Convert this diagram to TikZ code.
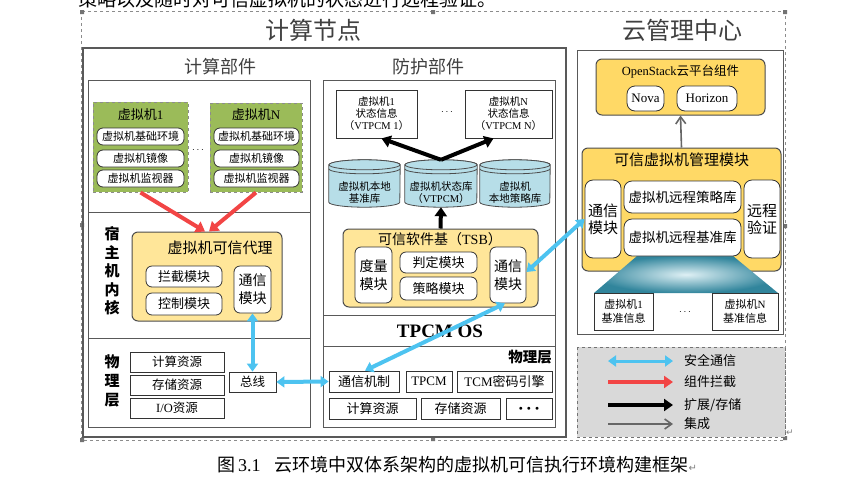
\documentclass[tikz,border=0pt]{standalone}
\usepackage{fontspec}
\setmainfont{Noto Sans CJK SC}
\newfontfamily\serifrm{Liberation Serif}
\newfontfamily\symfont{DejaVu Sans}
\usetikzlibrary{arrows.meta,positioning,calc}
\definecolor{frame}{HTML}{595959}
\definecolor{vmgreen}{HTML}{9BBB59}
\definecolor{agentyel}{HTML}{FFE699}
\definecolor{mgmtyel}{HTML}{FFD966}
\definecolor{cylblue}{HTML}{B7DEE8}
\definecolor{trapdark}{HTML}{31859C}
\definecolor{safeblue}{HTML}{4DC3F0}
\definecolor{cutred}{HTML}{F24545}
\definecolor{legendgrey}{HTML}{D9D9D9}
\newcommand{\fs}[2]{\fontsize{#1}{#2}\selectfont}
% cylinder drawn round an empty node: #1 node, #2 x radius
\newcommand{\drum}[2]{%
  \draw[drumline] ($(#1.north west)+(0,-5)$) -- ($(#1.south west)+(0,5)$)
    arc[start angle=180, end angle=360, x radius=#2, y radius=5]
    -- ($(#1.north east)+(0,-5)$)
    arc[start angle=0, end angle=180, x radius=#2, y radius=5] -- cycle;
  \draw[drumline] ($(#1.north)+(0,-5)$) ellipse[x radius=#2, y radius=5];
  \draw[draw=black!70, line width=0.8pt] ($(#1.north west)+(0,-9)$)
    arc[start angle=180, end angle=360, x radius=#2, y radius=5];}
\tikzset{
  panel/.style={draw=frame, line width=1pt},
  box/.style={rectangle, draw=black!80, fill=white, line width=0.8pt, inner sep=0pt,
              align=center, font=\fs{12.5}{15}},
  pill/.style={box, rounded corners=6pt, font=\fs{13}{15}},
  vmbox/.style={rectangle, draw=black!45, dashed, fill=vmgreen, line width=1pt, inner sep=0pt},
  agentbox/.style={rectangle, rounded corners=6pt, draw=black!70, fill=agentyel, line width=1pt,
                   inner sep=0pt},
  mgmtbox/.style={agentbox, fill=mgmtyel},
  infobox/.style={box, font=\fs{10.5}{12}},
  lbl/.style={inner sep=0pt, align=center},
  heading/.style={lbl, text=black!75, font=\fs{24}{28}},
  subheading/.style={lbl, text=black!75, font=\fs{18}{20}},
  drumline/.style={draw=black!70, line width=0.8pt, fill=cylblue},
  safe/.style={{Triangle[length=8pt,width=11pt]}-{Triangle[length=8pt,width=11pt]}, draw=safeblue,
               line width=4pt},
  cut/.style={-{Triangle[length=9pt,width=12pt]}, draw=cutred, line width=4pt},
  store/.style={-{Triangle[length=9pt,width=12pt]}, draw=black, line width=4pt},
  integ/.style={-{Straight Barb[length=7pt,width=10pt]}, draw=black!60, line width=1.6pt},
  keytext/.style={lbl, anchor=west, font=\fs{13}{15}}
}
\begin{document}
\begin{tikzpicture}[x=1pt, y=1pt]
 \useasboundingbox (0,0) rectangle (849,-491);
 \node[lbl, anchor=base west, font=\fs{19}{20}] (prevline) at (78,-6)
   {策略以及随时对可信虚拟机的状态进行远程验证。};
 % frame of the figure
 \draw[dashed, draw=black!45, line width=0.6pt] (81,-11) rectangle (785,-440);
 \fill[black!55] (80,-10) rectangle +(4,-4) (431,-10) rectangle +(4,-4) (783,-10) rectangle +(4,-4)
   (80,-223) rectangle +(4,-4) (783,-224) rectangle +(4,-4)
   (80,-438) rectangle +(4,-4) (431,-437) rectangle +(4,-4) (783,-436) rectangle +(4,-4);
 \node[heading] (nodetitle) at (313,-30) {计算节点};
 \node[heading] (cloudtitle) at (682,-30) {云管理中心};
 \draw[panel, line width=1.4pt] (83,-48) rectangle (566,-437);
 \node[subheading] (calctitle) at (220,-67) {计算部件};
 \node[subheading] (prottitle) at (428,-67) {防护部件};
 \draw[panel] (88,-80) rectangle (310,-427) (88,-212) -- (310,-212) (88,-338) -- (310,-338);
 \draw[panel] (323,-80) rectangle (555,-427) (323,-315) -- (555,-315) (323,-346) -- (555,-346);
 \draw[panel] (577,-50) rectangle (783,-334);

 % compute part
 \node[vmbox, minimum width=95, minimum height=90] (vm1) at (140.5,-147) {};
 \node[lbl, font=\fs{13}{15}] (vm1title) at (140.5,-115) {虚拟机{\serifrm 1}};
 \node[pill, minimum width=87, minimum height=17, font=\fs{11}{13}] (vm1env) at (140.5,-136.5) {虚拟机基础环境};
 \node[pill, minimum width=87, minimum height=17, font=\fs{11}{13}] (vm1img) at (140.5,-158.5) {虚拟机镜像};
 \node[pill, minimum width=87, minimum height=17, font=\fs{11}{13}] (vm1mon) at (140.5,-178.5) {虚拟机监视器};
 \node[vmbox, minimum width=92, minimum height=89] (vmN) at (256,-147.5) {};
 \node[lbl, font=\fs{13}{15}] (vmNtitle) at (256,-115) {虚拟机{\serifrm N}};
 \node[pill, minimum width=85, minimum height=17, font=\fs{11}{13}] (vmNenv) at (256.5,-136.5) {虚拟机基础环境};
 \node[pill, minimum width=85, minimum height=17, font=\fs{11}{13}] (vmNimg) at (256.5,-158.5) {虚拟机镜像};
 \node[pill, minimum width=85, minimum height=17, font=\fs{11}{13}] (vmNmon) at (256.5,-178.5) {虚拟机监视器};
 \node[lbl] (vmdots) at (198,-150) {$\cdots$};

 \node[agentbox, minimum width=150, minimum height=89] (agent) at (207,-276.5) {};
 \node[lbl, font=\fs{15}{17}] (agenttitle) at (220,-248) {虚拟机可信代理};
 \node[pill, minimum width=76, minimum height=21] (intercept) at (184,-276.5) {拦截模块};
 \node[pill, minimum width=76, minimum height=22] (control) at (184,-304) {控制模块};
 \node[pill, minimum width=37, minimum height=47, font=\fs{14}{18}] (agentcomm) at (252.5,-289.5) {通信\\模块};
 \node[lbl, font=\bfseries\fs{15}{18.5}] (hostlbl) at (112,-271) {宿\\主\\机\\内\\核};
 \node[lbl, font=\bfseries\fs{15}{19}] (physlbl) at (112,-381) {物\\理\\层};

 \node[box, minimum width=94, minimum height=20] (cpu1) at (177,-362) {计算资源};
 \node[box, minimum width=94, minimum height=20] (store1) at (177,-385) {存储资源};
 \node[box, minimum width=94, minimum height=20] (io1) at (177,-408) {{\serifrm I/O}资源};
 \node[box, minimum width=47, minimum height=20] (bus) at (252.5,-382) {总线};

 % protection part
 \node[infobox, minimum width=81, minimum height=48] (st1) at (376.5,-114)
   {虚拟机{\serifrm 1}\\状态信息\\（{\serifrm VTPCM 1}）};
 \node[infobox, minimum width=87, minimum height=48] (stN) at (508.5,-114)
   {虚拟机{\serifrm N}\\状态信息\\（{\serifrm VTPCM N}）};
 \node[lbl] (stdots) at (447,-112) {$\cdots$};
 \node[minimum width=71, minimum height=47, inner sep=0pt] (cyl1) at (364.5,-183.5) {};
 \node[minimum width=72, minimum height=47, inner sep=0pt] (cyl2) at (441,-183.5) {};
 \node[minimum width=70, minimum height=47, inner sep=0pt] (cyl3) at (515,-183.5) {};
 \drum{cyl1}{35.5}
 \drum{cyl2}{36}
 \drum{cyl3}{35}
 \node[lbl, font=\fs{10.5}{12}] (cyl1text) at ($(cyl1)+(0,-9.5)$) {虚拟机本地\\基准库};
 \node[lbl, font=\fs{10.5}{12}] (cyl2text) at ($(cyl2)+(0,-9.5)$) {虚拟机状态库\\（{\serifrm VTPCM}）};
 \node[lbl, font=\fs{10.5}{12}] (cyl3text) at ($(cyl3)+(0,-9.5)$) {虚拟机\\本地策略库};
 \draw[store] (cyl2.north) -- ($(st1.south)+(5,0)$);
 \draw[store] (cyl2.north) -- ($(stN.south)+(-15,0)$);

 \node[agentbox, minimum width=195, minimum height=78] (tsb) at (440.5,-268) {};
 \draw[store] (tsb.north) -- (cyl2.south);
 \node[lbl, font=\fs{14}{16}] (tsbtitle) at (440,-239) {可信软件基（{\serifrm TSB}）};
 \node[pill, minimum width=37, minimum height=56, font=\fs{14}{18}] (measure) at (373.5,-275) {度量\\模块};
 \node[pill, minimum width=77, minimum height=21] (judge) at (438.5,-262.5) {判定模块};
 \node[pill, minimum width=77, minimum height=23] (policy) at (438.5,-288.5) {策略模块};
 \node[pill, minimum width=36, minimum height=56, font=\fs{14}{18}] (tsbcomm) at (508,-275) {通信\\模块};
 \node[lbl, font=\serifrm\bfseries\fs{19}{20}] (tpcmos) at (440,-331) {TPCM OS};
 \node[lbl, anchor=east, font=\bfseries\fs{14.5}{17}] (protphys) at (552,-357) {物理层};
 \node[box, minimum width=70, minimum height=21, font=\fs{13}{15}] (commech) at (364,-381.5) {通信机制};
 \node[box, minimum width=46, minimum height=21, font=\fs{13}{15}] (tpcm) at (429,-381.5) {{\serifrm TPCM}};
 \node[box, minimum width=95, minimum height=21, font=\fs{13}{15}] (tcm) at (504.5,-381.5) {{\serifrm TCM}密码引擎};
 \node[box, minimum width=87, minimum height=21, font=\fs{13}{15}] (cpu2) at (372.5,-408.5) {计算资源};
 \node[box, minimum width=79, minimum height=21, font=\fs{13}{15}] (store2) at (460.5,-408.5) {存储资源};
 \node[box, minimum width=46, minimum height=21, font=\fs{7}{8}] (moredots) at (529,-408.5) {$\bullet\;\bullet\;\bullet$};

 % cloud management centre
 \node[mgmtbox, minimum width=169, minimum height=56] (openstack) at (680.5,-87) {};
 \node[lbl, font=\fs{12.5}{14}] (ostitle) at (680.5,-72) {{\serifrm OpenStack}云平台组件};
 \node[pill, minimum width=37, minimum height=25, rounded corners=8pt] (nova) at (645.5,-98.5) {{\serifrm Nova}};
 \node[pill, minimum width=60, minimum height=25, rounded corners=8pt] (horizon) at (707,-98.5) {{\serifrm Horizon}};
 \node[mgmtbox, minimum width=199, minimum height=123] (mgmt) at (681.5,-209.5) {};
 \draw[integ] (mgmt.north) -- (openstack.south);
 \node[lbl, font=\fs{15}{17}] (mgmttitle) at (681.5,-160) {可信虚拟机管理模块};
 \shade[inner color=cylblue!45!white, outer color=trapdark] (637,-256) -- (733,-256) -- (778,-293)
   -- (594,-293) -- cycle;
 \node[pill, minimum width=36, minimum height=78, rounded corners=8pt, font=\fs{15}{17}] (cloudcomm) at (603,-219) {通信\\模块};
 \node[pill, minimum width=117, minimum height=32, rounded corners=8pt, font=\fs{13.5}{15}] (rpolicy) at (682.5,-197) {虚拟机远程策略库};
 \node[pill, minimum width=117, minimum height=37, rounded corners=8pt, font=\fs{13.5}{15}] (rbase) at (682.5,-237.5) {虚拟机远程基准库};
 \node[pill, minimum width=36, minimum height=78, rounded corners=8pt, font=\fs{15}{17}] (verify) at (762,-219) {远程\\验证};
 \node[box, minimum width=59, minimum height=37, font=\fs{11}{14}] (bm1) at (623.5,-311.5) {虚拟机{\serifrm 1}\\基准信息};
 \node[box, minimum width=66, minimum height=37, font=\fs{11}{14}] (bmN) at (745,-311.5) {虚拟机{\serifrm N}\\基准信息};
 \node[lbl] (bmdots) at (685,-312) {$\cdots$};

 % connectors
 \draw[cut] (vm1.south) -- ($(agent.north)+(-2,0)$);
 \draw[cut] (vmN.south) -- ($(agent.north)+(2,0)$);
 \draw[safe] (agentcomm.south) -- (bus.north);
 \draw[safe] (bus.east) -- (commech.west);
 \draw[safe] ($(tsbcomm.south)+(-3,0)$) -- ($(commech.north)+(1,0)$);
 \draw[safe] ($(tsbcomm.east)+(0,3)$) -- (cloudcomm.west);

 % legend
 \draw[dashed, draw=black!55, fill=legendgrey, line width=0.8pt] (577,-347) rectangle (785,-437);
 \node[keytext] (key1) at (684,-361) {安全通信};
 \node[keytext] (key2) at (684,-382) {组件拦截};
 \node[keytext] (key3) at (684,-405) {扩展/存储};
 \node[keytext] (key4) at (684,-424) {集成};
 \draw[safe, line width=3pt] ($(key1.west)+(-76,0)$) -- ($(key1.west)+(-11,0)$);
 \draw[cut] ($(key2.west)+(-76,0)$) -- ($(key2.west)+(-11,0)$);
 \draw[store] ($(key3.west)+(-76,0)$) -- ($(key3.west)+(-11,0)$);
 \draw[integ] ($(key4.west)+(-76,0)$) -- ($(key4.west)+(-11,0)$);
 \node[lbl, anchor=west, text=black!50, font=\symfont\fs{9}{10}] (legendmark) at (786,-433) {↵};

 \node[lbl, anchor=west, font=\fs{18}{20}] (caption) at (217,-465)
   {图\,{\serifrm 3.1}\hspace{14pt}云环境中双体系架构的虚拟机可信执行环境构建框架{\symfont\color{black!50}\fs{10}{10}↵}};
\end{tikzpicture}
\end{document}
